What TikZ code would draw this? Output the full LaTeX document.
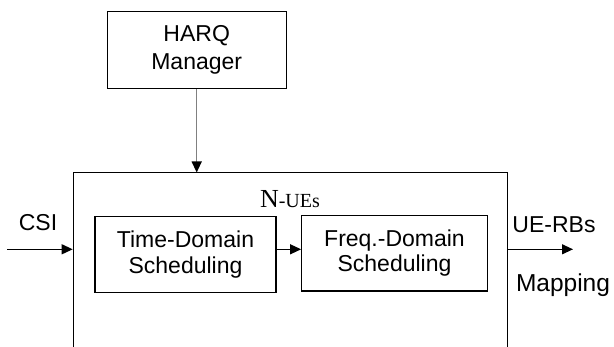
\documentclass[tikz,border=0pt]{standalone}
\usepackage{fontspec}
\setmainfont{Liberation Sans}
\newfontfamily\timesfont{Liberation Serif}
\usetikzlibrary{arrows.meta,positioning}

\begin{document}
\begin{tikzpicture}[
  x=1pt, y=-1pt,
  font=\fontsize{23}{25.5}\selectfont,
  blk/.style={draw, line width=1.2pt, align=center, inner sep=0pt},
  arr/.style={-{Triangle[length=11pt,width=10pt]}, line width=1.2pt}
]
\useasboundingbox (0,0) rectangle (614,347);
\clip (0,0) rectangle (614,347);

\node[blk, font=\fontsize{23}{28}\selectfont, minimum width=179pt, minimum height=77pt] (harq) at (196.7,50)
  {HARQ\\Manager};
\node[blk, line width=1pt, anchor=north west, minimum width=434pt, minimum height=190pt] (sched) at (72.7,172.5) {};
\node[blk, minimum width=181pt, minimum height=76pt] (tds) at (185.5,254.7)
  {Time-Domain\\Scheduling};
\node[blk, minimum width=185.6pt, minimum height=75.7pt] (fds) at (394.5,253.2)
  {Freq.-Domain\\Scheduling};
\node (nues) at (290,199)
  {\timesfont{\fontsize{26}{26}\selectfont N}\fontsize{20}{20}\selectfont -UEs};

\node (csi) at (38,223) {CSI};
\node (uerbs) at (554,225) {UE-RBs};
\node[font=\fontsize{24.5}{26}\selectfont] (mapping) at (563,285) {Mapping};

\coordinate (in) at (7,249.3);
\coordinate (out) at (573,249.3);

\draw[arr, gray, line width=1.4pt, -{Triangle[length=11pt,width=10pt,black]}] (harq.south) -- (harq.south |- sched.north);
\draw[arr] (in) -- (in -| sched.west);
\draw[arr] (tds.east |- in) -- (fds.west |- in);
\draw[arr] (sched.east |- out) -- (out);

\end{tikzpicture}
\end{document}
